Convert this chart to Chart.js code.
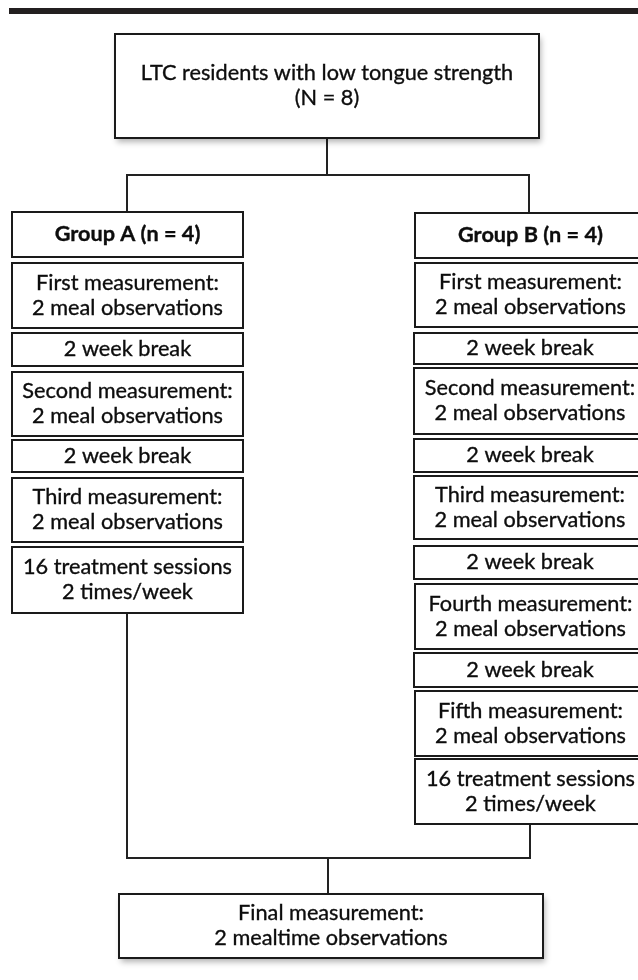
<!DOCTYPE html>
<html>
<head>
<meta charset="utf-8">
<script src="https://cdn.jsdelivr.net/npm/chart.js@4.4.1/dist/chart.umd.min.js"></script>
<style>
  html, body { margin: 0; padding: 0; background: #fff; }
  #wrap { width: 638px; height: 980px; position: relative; }
</style>
</head>
<body>
<div id="wrap"><canvas id="flow"></canvas></div>
<script>
// box contents (one entry per box, lines of text)
const boxText = [
  ["LTC residents with low tongue strength", "(N = 8)"],
  ["Group A (n = 4)"],
  ["First measurement:", "2 meal observations"],
  ["2 week break"],
  ["Second measurement:", "2 meal observations"],
  ["2 week break"],
  ["Third measurement:", "2 meal observations"],
  ["16 treatment sessions", "2 times/week"],
  ["Group B (n = 4)"],
  ["First measurement:", "2 meal observations"],
  ["2 week break"],
  ["Second measurement:", "2 meal observations"],
  ["2 week break"],
  ["Third measurement:", "2 meal observations"],
  ["2 week break"],
  ["Fourth measurement:", "2 meal observations"],
  ["2 week break"],
  ["Fifth measurement:", "2 meal observations"],
  ["16 treatment sessions", "2 times/week"],
  ["Final measurement:", "2 mealtime observations"],
];
const boxBold = [false, true, false, false, false, false, false, false, true,
  false, false, false, false, false, false, false, false, false, false, false];
const boxShadow = [true, false, false, false, false, false, false, false, false,
  false, false, false, false, false, false, false, false, false, false, true];

// box extents in diagram units (same units as the axes)
const boxLeft = [115, 12, 12, 12, 12, 12, 12, 12, 415, 415, 414, 414, 414, 414, 414, 415, 414, 415, 415, 119];
const boxRight = [539, 243, 243, 243, 243, 243, 243, 243, 646, 646, 646, 646, 646, 646, 646, 646, 646, 646, 646, 543];
const boxTop = [34, 212, 263, 333, 372, 440, 478, 547, 213, 263, 333, 368, 439, 476, 546, 584, 653, 691, 759, 894];
const boxBottom = [138, 257, 328, 366, 436, 472, 542, 613, 258, 327, 364, 434, 472, 539, 579, 649, 687, 756, 824, 958];

// connector polylines
const connectors = [
  [[327, 138], [327, 175]],
  [[127, 212], [127, 175], [529, 175], [529, 213]],
  [[127, 613], [127, 858], [530, 858], [530, 824]],
  [[328, 858], [328, 894]],
];

// heavy rule across the top of the page
const topRuleX = [9, 638];
const topRuleY = [8, 14];

const flowBoxes = {
  id: "flowBoxes",
  afterDatasetsDraw(chart) {
    const { ctx, scales } = chart;
    const x = scales.x, y = scales.y;
    ctx.save();
    ctx.fillStyle = "#231f20";
    const rx0 = x.getPixelForValue(topRuleX[0]), rx1 = x.getPixelForValue(topRuleX[1]);
    const ry0 = y.getPixelForValue(topRuleY[0]), ry1 = y.getPixelForValue(topRuleY[1]);
    ctx.fillRect(rx0, ry0, rx1 - rx0, ry1 - ry0);

    boxText.forEach((lines, i) => {
      const l = x.getPixelForValue(boxLeft[i]);
      const r = x.getPixelForValue(boxRight[i]);
      const t = y.getPixelForValue(boxTop[i]);
      const b = y.getPixelForValue(boxBottom[i]);
      ctx.save();
      if (boxShadow[i]) {
        ctx.shadowColor = "rgba(0,0,0,0.3)";
        ctx.shadowBlur = 6;
        ctx.shadowOffsetX = 2;
        ctx.shadowOffsetY = 4;
      }
      ctx.fillStyle = "#fff";
      ctx.fillRect(l, t, r - l, b - t);
      ctx.restore();
      ctx.lineWidth = 2;
      ctx.strokeStyle = "#1a1a1a";
      ctx.strokeRect(l, t, r - l, b - t);

      ctx.fillStyle = "#0d0d0d";
      ctx.strokeStyle = "#0d0d0d";
      ctx.lineWidth = 0.35;
      ctx.textAlign = "center";
      ctx.textBaseline = "middle";
      ctx.font = (boxBold[i] ? "bold " : "") + "21.7px Lato";
      const lh = 25;
      const cx = (l + r) / 2, cy = (t + b) / 2;
      lines.forEach((txt, k) => {
        const ty = cy + (k - (lines.length - 1) / 2) * lh;
        ctx.fillText(txt, cx, ty);
        ctx.strokeText(txt, cx, ty);
      });
    });
    ctx.restore();
  },
};

new Chart(document.getElementById("flow"), {
  type: "scatter",
  data: {
    datasets: connectors.map((pts) => ({
      data: pts.map(([px, py]) => ({ x: px, y: py })),
      showLine: true,
      borderColor: "#222",
      borderWidth: 2,
      pointRadius: 0,
      tension: 0,
    })),
  },
  options: {
    responsive: true,
    maintainAspectRatio: false,
    animation: false,
    layout: { padding: 0 },
    scales: {
      x: { type: "linear", min: 0, max: 638, display: false },
      y: { type: "linear", min: 0, max: 980, reverse: true, display: false },
    },
    plugins: { legend: { display: false }, tooltip: { enabled: false } },
  },
  plugins: [flowBoxes],
});
</script>
</body>
</html>
